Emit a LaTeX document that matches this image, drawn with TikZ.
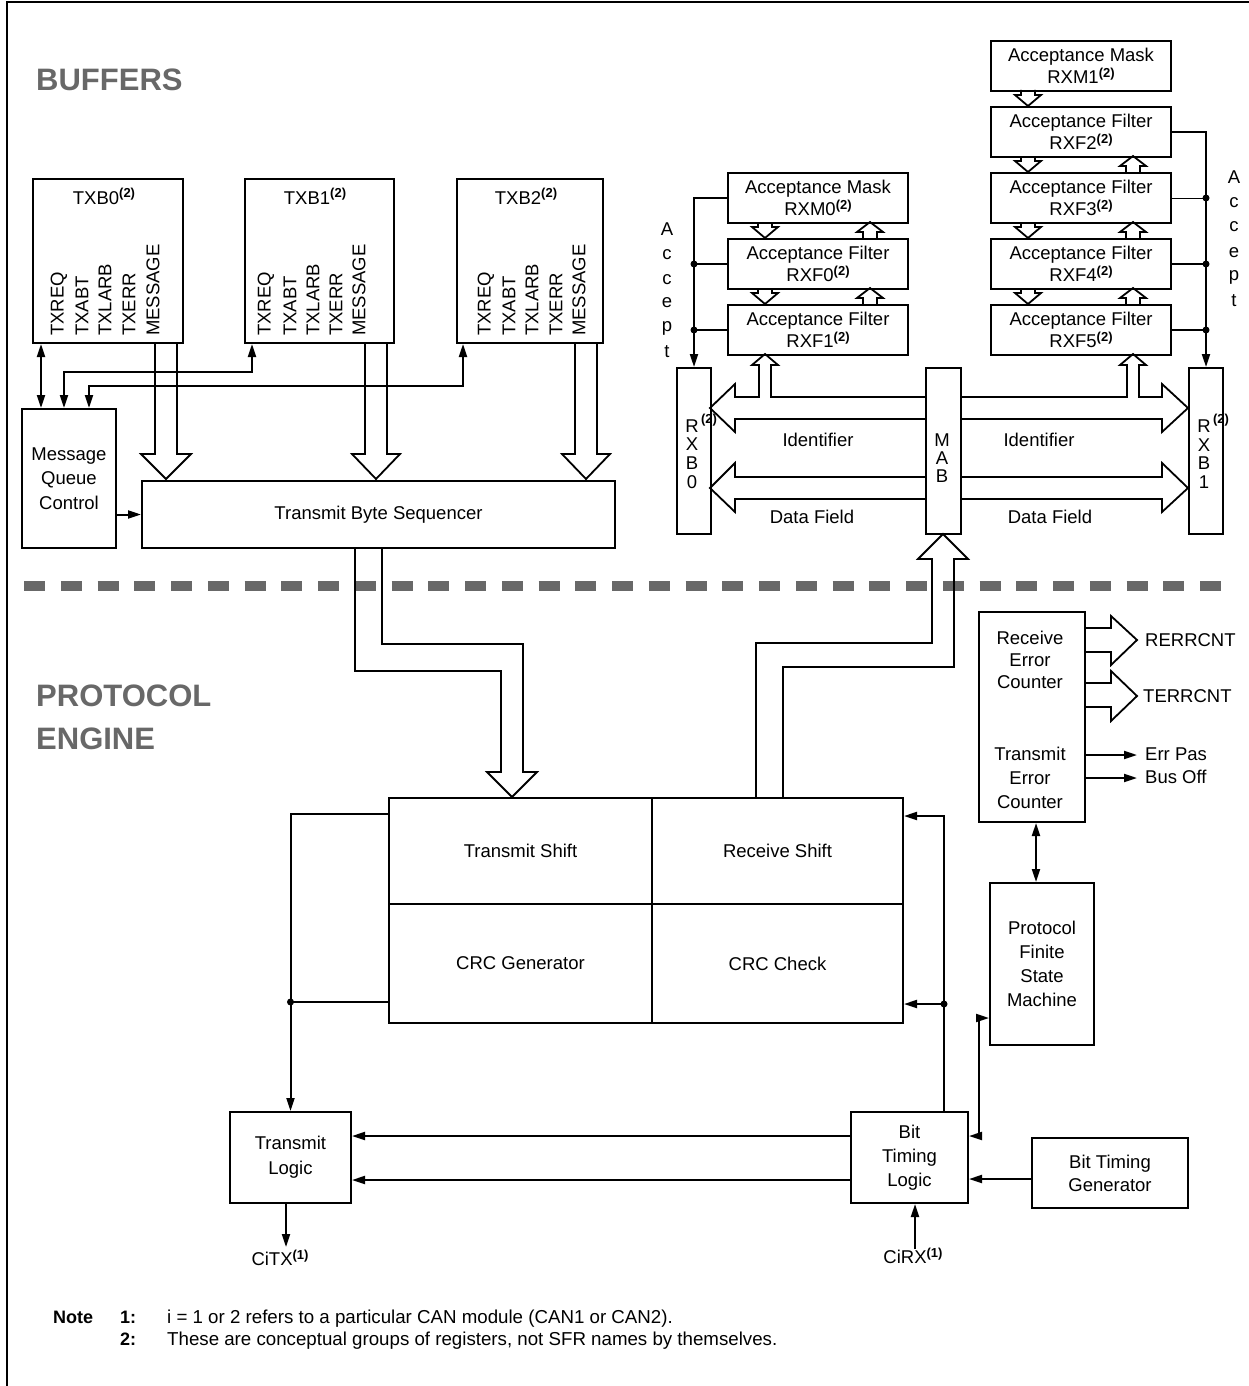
\documentclass[tikz,border=0pt]{standalone}
\usepackage{fontspec}
\setmainfont{Liberation Sans}
\usetikzlibrary{arrows.meta}
\definecolor{hdgray}{RGB}{104,104,104}
\newcommand{\supn}[1]{\raisebox{6.5pt}{\fontsize{13}{13}\selectfont\bfseries(#1)}}
\newcommand{\harrdown}[3]{\draw[hollowar] ({#1-7},#2) -- ({#1-7},{#2+5}) -- ({#1-13},{#2+5}) -- (#1,#3) -- ({#1+13},{#2+5}) -- ({#1+7},{#2+5}) -- ({#1+7},#2);}
\newcommand{\harrup}[3]{\draw[hollowar] ({#1-7},#3) -- ({#1-7},{#2+10}) -- ({#1-13},{#2+10}) -- (#1,#2) -- ({#1+13},{#2+10}) -- ({#1+7},{#2+10}) -- ({#1+7},#3);}
\begin{document}
\begin{tikzpicture}[x=1pt,y=-1pt,
  font=\fontsize{18.5}{23.5}\selectfont,
  blk/.style={draw,line width=2pt,inner sep=0pt,anchor=north west,align=center},
  filt/.style={blk,minimum width=180pt,minimum height=50pt,font=\fontsize{18.5}{22}\selectfont},
  txt/.style={inner sep=0pt,align=center},
  conn/.style={line width=2pt},
  hollowar/.style={line width=1.8pt,line join=miter},
  tipend/.style={-{Triangle[length=13pt,width=8pt]}},
  tipboth/.style={{Triangle[length=13pt,width=8pt]}-{Triangle[length=13pt,width=8pt]}},
  jdot/.style={circle,fill,inner sep=0pt,minimum size=7pt}
]
\useasboundingbox (0,0) rectangle (1249,1386);
\draw[line width=2pt] (7,1386) -- (7,2) -- (1249,2);

% headings
\node[txt,anchor=base west,font=\fontsize{31}{43}\selectfont\bfseries,text=hdgray] (hbuf) at (36,91) {BUFFERS};
\node[txt,anchor=base west,font=\fontsize{31}{43}\selectfont\bfseries,text=hdgray] (hpro) at (36,706) {PROTOCOL};
\node[txt,anchor=base west,font=\fontsize{31}{43}\selectfont\bfseries,text=hdgray] (heng) at (36,749) {ENGINE};

% dashed separator
\draw[line width=10pt,hdgray,dash pattern=on 21pt off 15.75pt] (24,586) -- (1223,586);

% TX buffers
\node[blk,minimum width=150pt,minimum height=164pt] (txb0) at (32,178) {};
\node[blk,minimum width=149pt,minimum height=164pt] (txb1) at (244,178) {};
\node[blk,minimum width=146pt,minimum height=164pt] (txb2) at (456,178) {};
\node[txt,anchor=base] (lb0) at (104,204) {TXB0\supn{2}};
\node[txt,anchor=base] (lb1) at (315,204) {TXB1\supn{2}};
\node[txt,anchor=base] (lb2) at (526,204) {TXB2\supn{2}};
\foreach \n/\x in {TXREQ/59,TXABT/82,TXLARB/105,TXERR/129,MESSAGE/153}
  {\node[txt,rotate=90,anchor=west] (ba\n) at (\x,336) {\n};}
\foreach \n/\x in {TXREQ/266,TXABT/290,TXLARB/313,TXERR/336,MESSAGE/359}
  {\node[txt,rotate=90,anchor=west] (bb\n) at (\x,336) {\n};}
\foreach \n/\x in {TXREQ/486,TXABT/509,TXLARB/532,TXERR/556,MESSAGE/579}
  {\node[txt,rotate=90,anchor=west] (bc\n) at (\x,336) {\n};}

\node[blk,minimum width=94pt,minimum height=139pt,font=\fontsize{18.5}{24.5}\selectfont] (mqc) at (21,408) {Message\\Queue\\Control};
\node[blk,minimum width=473pt,minimum height=67pt] (tbs) at (141,480) {Transmit Byte Sequencer};

\draw[conn,tipboth] ([xshift=9pt]txb0.south west) -- ([xshift=20pt]mqc.north west);
\draw[conn,tipboth] ([xshift=43pt]mqc.north west) |- (252,372) -- ([xshift=8pt]txb1.south west);
\draw[conn,tipboth] ([xshift=68pt]mqc.north west) |- (463,386) -- ([xshift=7pt]txb2.south west);
\draw[conn,tipend] (mqc.east |- tbs.west) -- (tbs.west);

\draw[hollowar] (155,342) -- (155,454) -- (141,454) -- (166,479) -- (191,454) -- (177,454) -- (177,342);
\draw[hollowar] (365,342) -- (365,454) -- (352,454) -- (376,479) -- (400,454) -- (387,454) -- (387,342);
\draw[hollowar] (575,342) -- (575,454) -- (562,454) -- (586,479) -- (610,454) -- (597,454) -- (597,342);

% RX filters
\node[filt] (rxm1) at (990,40) {Acceptance Mask\\RXM1\supn{2}};
\node[filt] (rxf2) at (990,106) {Acceptance Filter\\RXF2\supn{2}};
\node[filt] (rxf3) at (990,172) {Acceptance Filter\\RXF3\supn{2}};
\node[filt] (rxf4) at (990,238) {Acceptance Filter\\RXF4\supn{2}};
\node[filt] (rxf5) at (990,304) {Acceptance Filter\\RXF5\supn{2}};
\node[filt] (rxm0) at (727,172) {Acceptance Mask\\RXM0\supn{2}};
\node[filt] (rxf0) at (727,238) {Acceptance Filter\\RXF0\supn{2}};
\node[filt] (rxf1) at (727,304) {Acceptance Filter\\RXF1\supn{2}};

\harrdown{765}{222}{238}
\harrdown{765}{288}{304}
\harrdown{1028}{90}{106}
\harrdown{1028}{156}{172}
\harrdown{1028}{222}{238}
\harrdown{1028}{288}{304}
\harrup{870}{222}{238}
\harrup{870}{288}{304}
\harrup{1133}{156}{172}
\harrup{1133}{222}{238}
\harrup{1133}{288}{304}

% RX buffers and MAB
\node[blk,minimum width=34pt,minimum height=166pt] (rxb0) at (676,367) {};
\node[blk,minimum width=35pt,minimum height=166pt] (mab) at (925,367) {};
\node[blk,minimum width=34pt,minimum height=166pt] (rxb1) at (1188,367) {};
\node[txt,font=\fontsize{18.5}{18.7}\selectfont] (trxb0) at (692,454) {R\\X\\B\\0};
\node[txt,font=\fontsize{13}{13}\selectfont\bfseries] (srxb0) at (709,420) {(2)};
\node[txt,font=\fontsize{18.5}{18}\selectfont] (tmab) at (942,458) {M\\A\\B};
\node[txt,font=\fontsize{18.5}{18.7}\selectfont] (trxb1) at (1204,454) {R\\X\\B\\1};
\node[txt,font=\fontsize{13}{13}\selectfont\bfseries] (srxb1) at (1221,420) {(2)};

% accept lines
\draw[conn,tipend] (rxm0.west) -| (rxb0.north);
\draw[conn] (rxf0.west) -- (rxf0.west -| rxb0.north) node[jdot] {};
\draw[conn] (rxf1.west) -- (rxf1.west -| rxb0.north) node[jdot] {};
\draw[conn,tipend] (rxf2.east) -| (rxb1.north);
\draw[line width=1pt] (rxf3.east) -- (rxf3.east -| rxb1.north) node[jdot] {};
\draw[conn] (rxf4.east) -- (rxf4.east -| rxb1.north) node[jdot] {};
\draw[conn] (rxf5.east) -- (rxf5.east -| rxb1.north) node[jdot] {};
\foreach \l/\y in {A/229,c/255,c/280,e/303,p/328,t/352}
  {\node[txt] (al\y) at (667,\y) {\l};}
\foreach \l/\y in {A/177,c/203,c/227,e/253,p/277,t/301}
  {\node[txt] (ar\y) at (1234,\y) {\l};}

% buses
\draw[hollowar] (925,419) -- (735,419) -- (735,432) -- (710,408) -- (735,384) -- (735,397) -- (759,397) -- (759,365) -- (752,365) -- (765,354) -- (778,365) -- (771,365) -- (771,397) -- (925,397);
\draw[hollowar] (960,397) -- (1127,397) -- (1127,365) -- (1120,365) -- (1133,354) -- (1146,365) -- (1139,365) -- (1139,397) -- (1162,397) -- (1162,384) -- (1188,408) -- (1162,432) -- (1162,419) -- (960,419);
\draw[hollowar] (925,499) -- (735,499) -- (735,512) -- (710,488) -- (735,463) -- (735,477) -- (925,477);
\draw[hollowar] (960,477) -- (1162,477) -- (1162,463) -- (1188,488) -- (1162,512) -- (1162,499) -- (960,499);
\node[txt] (idl) at (818,440) {Identifier};
\node[txt] (idr) at (1039,440) {Identifier};
\node[txt] (dfl) at (812,517) {Data Field};
\node[txt] (dfr) at (1050,517) {Data Field};

% protocol engine core
\node[blk,minimum width=263pt,minimum height=106pt] (ts) at (388,797) {Transmit Shift};
\node[blk,minimum width=251pt,minimum height=106pt] (rs) at (651,797) {Receive Shift};
\node[blk,minimum width=263pt,minimum height=119pt] (crcg) at (388,903) {CRC Generator};
\node[blk,minimum width=251pt,minimum height=119pt] (crcc) at (651,903) {CRC Check};

\draw[hollowar] (355,547) -- (355,671) -- (501,671) -- (501,772) -- (487,772) -- (512,797) -- (537,772) -- (523,772) -- (523,644) -- (382,644) -- (382,547);
\draw[hollowar] (756,797) -- (756,643) -- (932,643) -- (932,559) -- (918,559) -- (943,534) -- (968,559) -- (954,559) -- (954,667) -- (783,667) -- (783,797);

% error counters
\node[blk,minimum width=106pt,minimum height=210pt] (tec) at (978,611) {};
\node[txt,font=\fontsize{18.5}{22}\selectfont] (trec) at (1030,660) {Receive\\Error\\Counter};
\node[txt,font=\fontsize{18.5}{24}\selectfont] (ttec) at (1030,778) {Transmit\\Error\\Counter};
\draw[hollowar] (1084,628) -- (1111,628) -- (1111,616) -- (1137,640) -- (1111,665) -- (1111,652) -- (1084,652);
\draw[hollowar] (1084,683) -- (1111,683) -- (1111,671) -- (1137,696) -- (1111,721) -- (1111,707) -- (1084,707);
\node[txt,anchor=west] (rerr) at (1145,640) {RERRCNT};
\node[txt,anchor=west] (terr) at (1143,696) {TERRCNT};
\node[txt,anchor=west] (errp) at (1145,754) {Err Pas};
\node[txt,anchor=west] (buso) at (1145,777) {Bus Off};
\draw[conn,tipend] ([yshift=-38pt]tec.east) -- ++(51,0);
\draw[conn,tipend] ([yshift=-61pt]tec.east) -- ++(51,0);

\node[blk,minimum width=104pt,minimum height=162pt,font=\fontsize{18.5}{24}\selectfont] (pfsm) at (989,882) {Protocol\\Finite\\State\\Machine};
\draw[conn,tipboth] ([xshift=4pt]tec.south) -- ([xshift=4pt]tec.south |- pfsm.north);

% bottom logic
\node[blk,minimum width=121pt,minimum height=91pt,font=\fontsize{18.5}{25}\selectfont] (tl) at (229,1111) {Transmit\\Logic};
\node[blk,minimum width=117pt,minimum height=91pt,font=\fontsize{18.5}{24}\selectfont] (btl) at (850,1111) {Bit\\Timing\\Logic};
\node[blk,minimum width=156pt,minimum height=70pt,font=\fontsize{18.5}{23}\selectfont] (btg) at (1031,1137) {Bit Timing\\Generator};

\draw[conn,tipend] ([yshift=37pt]ts.west) -| (tl.north);
\draw[conn] ([yshift=-38.5pt]crcg.west) -- ([yshift=-38.5pt]crcg.west -| tl.north) node[jdot] {};
\draw[conn,tipend] ([xshift=34.5pt]btl.north) |- ([yshift=35pt]rs.east);
\coordinate (rdot) at ([xshift=34.5pt,yshift=-40.5pt]btl.north |- crcc.east);
\node[jdot] (rdotn) at (rdot) {};
\draw[conn,tipend] (rdot) -- (rdot -| crcc.east);
\draw[conn,tipend] ([yshift=21.5pt]btl.west) -- ([yshift=21.5pt]btl.west -| tl.east);
\draw[conn,tipend] ([yshift=-22.5pt]btl.west) -- ([yshift=-22.5pt]btl.west -| tl.east);
\draw[conn,tipend] ([yshift=-6pt]btg.west) -- ([yshift=-6pt]btg.west -| btl.east);
\draw[conn,tipboth] ([yshift=21.5pt]btl.east) -- ++(10,0) |- ([yshift=-54pt]pfsm.west);

\node[txt,anchor=base] (citx) at (280,1265.5) {CiTX\supn{1}};
\node[txt,anchor=base] (cirx) at (913,1263.5) {CiRX\supn{1}};
\draw[conn,tipend] ([xshift=-4.5pt]tl.south) -- ++(0,43);
\draw[conn,tipend] ([xshift=5.5pt]btl.south) ++(0,45) -- ([xshift=5.5pt]btl.south);

% notes
\node[txt,anchor=base west,font=\fontsize{18}{22}\selectfont\bfseries] (nn) at (53,1323) {Note};
\node[txt,anchor=base west,font=\fontsize{18}{22}\selectfont\bfseries] (n1) at (120,1323) {1:};
\node[txt,anchor=base west,font=\fontsize{18}{22}\selectfont\bfseries] (n2) at (120,1345) {2:};
\node[txt,anchor=base west,font=\fontsize{18.7}{22}\selectfont] (t1) at (167,1323) {i = 1 or 2 refers to a particular CAN module (CAN1 or CAN2).};
\node[txt,anchor=base west,font=\fontsize{18.7}{22}\selectfont] (t2) at (167,1345) {These are conceptual groups of registers, not SFR names by themselves.};
\end{tikzpicture}
\end{document}
